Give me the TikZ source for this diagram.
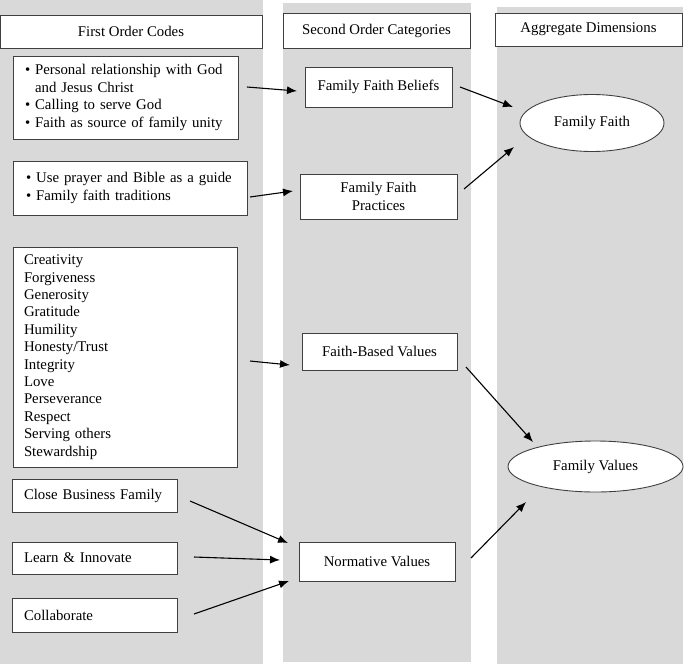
\documentclass[tikz,border=0pt]{standalone}
\usepackage{fontspec}
\setmainfont{Liberation Serif}
\usetikzlibrary{arrows.meta,shapes.geometric}
\tikzset{
  colbg/.style={fill=black!15,draw=none},
  box/.style={draw=black!75,fill=white,line width=0.9pt,inner sep=0pt,outer sep=0pt,
    font=\fontsize{14.8}{17.4}\selectfont},
  listbox/.style={box,align=left,inner xsep=#1,inner ysep=0pt},
  oval/.style={box,ellipse},
  flow/.style={line width=1.1pt,-{Latex[length=10pt,width=8pt]}}
}
\begin{document}
\begin{tikzpicture}[x=1pt,y=-1pt]
  \useasboundingbox (0,0) rectangle (685,664);
  % grey columns
  \fill [colbg] (0,0) rectangle (263,664);
  \fill [colbg] (283,3) rectangle (471,662);
  \fill [colbg] (497,7) rectangle (683,664);
  % headers
  \node [box,minimum width=262pt,minimum height=33pt] (hfirst) at (131,31.5) {First Order Codes};
  \node [box,minimum width=187pt,minimum height=35pt] (hsecond) at (376.5,30.5) {Second Order Categories};
  \node [box,minimum width=187pt,minimum height=33pt] (haggr) at (588.5,29.5) {Aggregate Dimensions};
  % first order codes
  \node [listbox=12pt,text width=201pt,minimum height=83pt] (beliefcodes) at (125.5,97.5)
    {\textbullet\ Personal relationship with God\\
     \phantom{\textbullet\ }and Jesus Christ\\
     \textbullet\ Calling to serve God\\
     \textbullet\ Faith as source of family unity};
  \node [listbox=13pt,text width=208pt,minimum height=54pt] (practicecodes) at (130,188)
    {\textbullet\ Use prayer and Bible as a guide\\
     \textbullet\ Family faith traditions};
  \node [listbox=11pt,text width=202pt,minimum height=220pt] (valuecodes) at (125,357)
    {Creativity\\ Forgiveness\\ Generosity\\ Gratitude\\ Humility\\ Honesty/Trust\\
     Integrity\\ Love\\ Perseverance\\ Respect\\ Serving others\\ Stewardship};
  \node [listbox=12pt,text width=141pt,minimum height=33pt] (closefam) at (94.5,495.5) {Close Business Family};
  \node [listbox=12pt,text width=141pt,minimum height=32pt] (learn) at (94.5,558) {Learn \& Innovate};
  \node [listbox=12pt,text width=141pt,minimum height=34pt] (collab) at (94.5,615) {Collaborate};
  % second order categories
  \node [box,minimum width=147pt,minimum height=40pt] (beliefs) at (378.5,87) {Family Faith Beliefs};
  \node [box,align=center,minimum width=157pt,minimum height=45pt] (practices) at (378.5,196.5) {Family Faith\\Practices};
  \node [box,minimum width=155pt,minimum height=37pt] (fbvalues) at (379.5,351.5) {Faith-Based Values};
  \node [box,minimum width=156pt,minimum height=39pt] (normvalues) at (377,561.5) {Normative Values};
  % aggregate dimensions
  \node [oval,minimum width=144pt,minimum height=57pt] (famfaith) at (592,123) {Family Faith};
  \node [oval,minimum width=175pt,minimum height=51pt] (famvalues) at (595.5,466.5) {Family Values};
  % arrows
  \draw [flow] ([xshift=9pt,yshift=10.5pt]beliefcodes.east) -- ([xshift=-8pt,yshift=-4pt]beliefs.west);
  \draw [flow] ([xshift=3pt,yshift=-9pt]practicecodes.east) -- ([xshift=-7pt,yshift=5.5pt]practices.west);
  \draw [flow] ([xshift=8pt]beliefs.east) -- ([xshift=-7pt,yshift=16pt]famfaith.west);
  \draw [flow] ([xshift=7pt,yshift=7.5pt]practices.east) -- ([xshift=-6pt,yshift=-24pt]famfaith.west);
  \draw [flow] ([xshift=13pt,yshift=-4pt]valuecodes.east) -- ([xshift=-12pt,yshift=-13.5pt]fbvalues.west);
  \draw [flow] ([xshift=9pt,yshift=-15.5pt]fbvalues.east) -- ([xshift=-62.5pt,yshift=-1pt]famvalues.north);
  \draw [flow] ([xshift=13pt,yshift=-5.5pt]closefam.east) -- ([xshift=-11pt,yshift=18.5pt]normvalues.west);
  \draw [flow] ([xshift=17pt,yshift=1pt]learn.east) -- ([xshift=-19pt,yshift=1.5pt]normvalues.west);
  \draw [flow] ([xshift=17pt,yshift=1pt]collab.east) -- ([xshift=-10pt,yshift=-19.5pt]normvalues.west);
  \draw [flow] ([xshift=16pt,yshift=3.5pt]normvalues.east) -- ([xshift=-69.5pt,yshift=-10pt]famvalues.south);
\end{tikzpicture}
\end{document}
